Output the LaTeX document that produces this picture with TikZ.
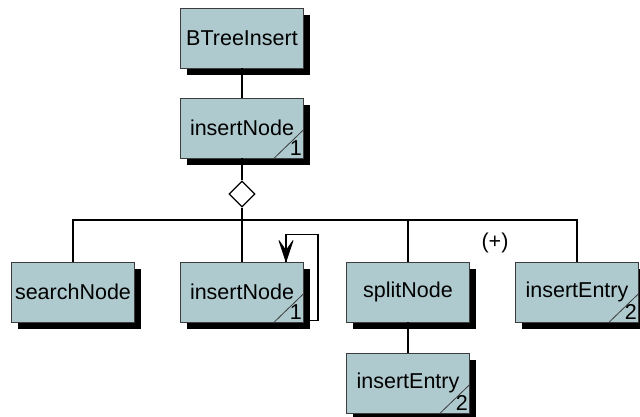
\documentclass[tikz,border=0pt]{standalone}
\usepackage{fontspec}
\setmainfont{Liberation Sans}
\usepackage{tikz}
\usetikzlibrary{arrows.meta, positioning, shapes.geometric, shadows}
\definecolor{boxfill}{RGB}{174,202,206}
\definecolor{boxline}{RGB}{60,60,60}

\begin{document}
\begin{tikzpicture}[x=1pt, y=-1pt,
  every node/.style={font=\fontsize{21.5}{25}\selectfont},
  unit/.style={draw=boxline, line width=0.8pt, fill=boxfill, minimum width=123pt, minimum height=60pt, inner sep=0pt,
    drop shadow={shadow xshift=6pt, shadow yshift=-7pt, fill=black, opacity=1}},
  conn/.style={line width=1.3pt},
  choice/.style={diamond, draw, line width=1.1pt, fill=white, minimum width=26pt, minimum height=26pt, inner sep=0pt},
  num/.style={inner sep=0pt}]
  \useasboundingbox (0,0) rectangle (640,417);

  % units
  \node[unit] (top) at (242,38) {BTreeInsert};
  \node[unit] (int) at (242,128) {insertNode};
  \node[choice] (dia) at (242,194) {};
  \coordinate (bar) at (0,220);
  \node[unit] (srch) at (73,292) {searchNode};
  \node[unit] (inb) at (242,292) {insertNode};
  \node[unit] (spl) at (408,292) {splitNode};
  \node[unit] (iea) at (577,292) {insertEntry};
  \node[unit] (ieb) at (408,383) {insertEntry};
  \node (opt) at (495,243) {(+)};

  % connectors
  \draw[conn] (top.south) -- (int.north);
  \draw[conn] (int.south) -- (dia.north);
  \draw[conn] (dia.south) -- (dia.south |- bar);
  \draw[conn] (srch.north) -- (srch.north |- bar) -- (iea.north |- bar) -- (iea.north);
  \draw[conn] (inb.north) -- (inb.north |- bar);
  \draw[conn] (spl.north) -- (spl.north |- bar);
  \draw[conn] (spl.south) -- (ieb.north);
  \coordinate (loopin) at ([xshift=44pt]inb.north);
  \draw[conn] ([yshift=2pt]inb.south east) -- ++(14,0) |- ([yshift=27pt]loopin) -- (loopin);
  \filldraw[black, line width=0.8pt, line join=round] (loopin) -- ++(-7,-21) -- ++(7,10) -- ++(7,-10) -- cycle;

  % recursion marks
  \foreach \n/\k in {int/1, inb/1, iea/2, ieb/2} {
    \draw[boxline, line width=0.8pt] ([xshift=-30pt]\n.south east) -- ([yshift=29pt]\n.south east);
    \node[num] (\n-num) at ([xshift=-8pt, yshift=10pt]\n.south east) {\k};
  }
\end{tikzpicture}
\end{document}
